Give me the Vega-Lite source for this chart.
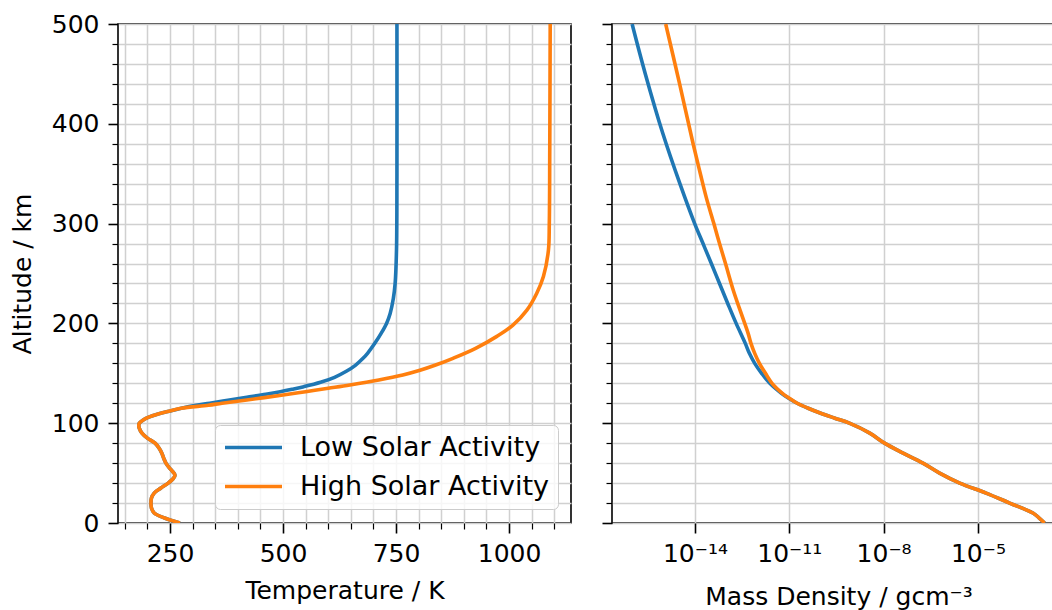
{
  "$schema": "https://vega.github.io/schema/vega-lite/v6.json",
  "padding": {"left": 9, "top": 11, "right": 0, "bottom": 0},
  "background": "white",
  "config": {
    "view": {"stroke": "black", "strokeWidth": 1.6},
    "font": "DejaVu Sans",
    "axis": {
      "labelFont": "DejaVu Sans", "labelFontSize": 25, "labelColor": "black",
      "titleFont": "DejaVu Sans", "titleFontSize": 25, "titleFontWeight": "normal", "titleColor": "black",
      "tickColor": "black", "domain": false, "grid": true, "gridColor": "#d0d0d0", "gridWidth": 1.5,
      "labelFlush": false, "labelOverlap": false, "labelPadding": 8
    }
  },
  "datasets": {
    "temp": [
      {"s":"Low Solar Activity","alt":0,"T":272},{"s":"Low Solar Activity","alt":5,"T":238},{"s":"Low Solar Activity","alt":10,"T":215},{"s":"Low Solar Activity","alt":15,"T":209},{"s":"Low Solar Activity","alt":20,"T":208},{"s":"Low Solar Activity","alt":25,"T":209},{"s":"Low Solar Activity","alt":30,"T":215},{"s":"Low Solar Activity","alt":35,"T":230},{"s":"Low Solar Activity","alt":40,"T":246},{"s":"Low Solar Activity","alt":45,"T":258},{"s":"Low Solar Activity","alt":48,"T":261},{"s":"Low Solar Activity","alt":52,"T":255},{"s":"Low Solar Activity","alt":55,"T":249},{"s":"Low Solar Activity","alt":60,"T":241},{"s":"Low Solar Activity","alt":65,"T":236},{"s":"Low Solar Activity","alt":70,"T":232},{"s":"Low Solar Activity","alt":75,"T":226},{"s":"Low Solar Activity","alt":80,"T":217},{"s":"Low Solar Activity","alt":85,"T":200},{"s":"Low Solar Activity","alt":90,"T":188},{"s":"Low Solar Activity","alt":95,"T":182},{"s":"Low Solar Activity","alt":98,"T":181},{"s":"Low Solar Activity","alt":100,"T":182},{"s":"Low Solar Activity","alt":103,"T":190},{"s":"Low Solar Activity","alt":106,"T":203},{"s":"Low Solar Activity","alt":109,"T":222},{"s":"Low Solar Activity","alt":112,"T":248},{"s":"Low Solar Activity","alt":115,"T":275},{"s":"Low Solar Activity","alt":118,"T":308},{"s":"Low Solar Activity","alt":120,"T":338},{"s":"Low Solar Activity","alt":123,"T":378},{"s":"Low Solar Activity","alt":126,"T":420},{"s":"Low Solar Activity","alt":129,"T":462},{"s":"Low Solar Activity","alt":131.6,"T":494},{"s":"Low Solar Activity","alt":134,"T":520},{"s":"Low Solar Activity","alt":136.6,"T":546},{"s":"Low Solar Activity","alt":141,"T":583},{"s":"Low Solar Activity","alt":146,"T":614},{"s":"Low Solar Activity","alt":152,"T":640},{"s":"Low Solar Activity","alt":158,"T":660},{"s":"Low Solar Activity","alt":165,"T":677},{"s":"Low Solar Activity","alt":170,"T":687},{"s":"Low Solar Activity","alt":180,"T":703},{"s":"Low Solar Activity","alt":190,"T":717},{"s":"Low Solar Activity","alt":200,"T":729},{"s":"Low Solar Activity","alt":210,"T":737},{"s":"Low Solar Activity","alt":225,"T":744},{"s":"Low Solar Activity","alt":240,"T":748},{"s":"Low Solar Activity","alt":273,"T":751},{"s":"Low Solar Activity","alt":350,"T":752},{"s":"Low Solar Activity","alt":500,"T":752},
      {"s":"High Solar Activity","alt":0,"T":272},{"s":"High Solar Activity","alt":5,"T":238},{"s":"High Solar Activity","alt":10,"T":215},{"s":"High Solar Activity","alt":15,"T":209},{"s":"High Solar Activity","alt":20,"T":208},{"s":"High Solar Activity","alt":25,"T":209},{"s":"High Solar Activity","alt":30,"T":215},{"s":"High Solar Activity","alt":35,"T":230},{"s":"High Solar Activity","alt":40,"T":246},{"s":"High Solar Activity","alt":45,"T":258},{"s":"High Solar Activity","alt":48,"T":261},{"s":"High Solar Activity","alt":52,"T":255},{"s":"High Solar Activity","alt":55,"T":249},{"s":"High Solar Activity","alt":60,"T":241},{"s":"High Solar Activity","alt":65,"T":236},{"s":"High Solar Activity","alt":70,"T":232},{"s":"High Solar Activity","alt":75,"T":226},{"s":"High Solar Activity","alt":80,"T":217},{"s":"High Solar Activity","alt":85,"T":200},{"s":"High Solar Activity","alt":90,"T":188},{"s":"High Solar Activity","alt":95,"T":182},{"s":"High Solar Activity","alt":98,"T":181},{"s":"High Solar Activity","alt":100,"T":182},{"s":"High Solar Activity","alt":103,"T":190},{"s":"High Solar Activity","alt":106,"T":203},{"s":"High Solar Activity","alt":109,"T":222},{"s":"High Solar Activity","alt":112,"T":248},{"s":"High Solar Activity","alt":115,"T":275},{"s":"High Solar Activity","alt":118,"T":335},{"s":"High Solar Activity","alt":120,"T":365},{"s":"High Solar Activity","alt":123.2,"T":420},{"s":"High Solar Activity","alt":128.3,"T":500},{"s":"High Solar Activity","alt":131.6,"T":550},{"s":"High Solar Activity","alt":135,"T":600},{"s":"High Solar Activity","alt":138.3,"T":648},{"s":"High Solar Activity","alt":143.3,"T":712},{"s":"High Solar Activity","alt":148.3,"T":765},{"s":"High Solar Activity","alt":153,"T":803},{"s":"High Solar Activity","alt":158,"T":836},{"s":"High Solar Activity","alt":165,"T":876},{"s":"High Solar Activity","alt":175,"T":926},{"s":"High Solar Activity","alt":187,"T":973},{"s":"High Solar Activity","alt":198,"T":1008},{"s":"High Solar Activity","alt":213,"T":1039},{"s":"High Solar Activity","alt":230,"T":1061},{"s":"High Solar Activity","alt":247,"T":1076},{"s":"High Solar Activity","alt":273,"T":1087},{"s":"High Solar Activity","alt":300,"T":1089},{"s":"High Solar Activity","alt":374,"T":1090},{"s":"High Solar Activity","alt":500,"T":1091}
    ],
    "dens": [
      {"s":"Low Solar Activity","alt":0,"rho":1.32e-3},{"s":"Low Solar Activity","alt":5,"rho":8.9e-4},{"s":"Low Solar Activity","alt":10,"rho":5.62e-4},{"s":"Low Solar Activity","alt":20,"rho":1.02e-4},{"s":"Low Solar Activity","alt":30,"rho":1.82e-5},{"s":"Low Solar Activity","alt":40,"rho":2.63e-6},{"s":"Low Solar Activity","alt":50,"rho":6.03e-7},{"s":"Low Solar Activity","alt":60,"rho":1.78e-7},{"s":"Low Solar Activity","alt":70,"rho":4.17e-8},{"s":"Low Solar Activity","alt":80,"rho":1.07e-8},{"s":"Low Solar Activity","alt":90,"rho":3.63e-9},{"s":"Low Solar Activity","alt":100,"rho":8.13e-10},{"s":"Low Solar Activity","alt":105,"rho":2.82e-10},{"s":"Low Solar Activity","alt":110,"rho":1.0e-10},{"s":"Low Solar Activity","alt":115,"rho":3.98e-11},{"s":"Low Solar Activity","alt":120,"rho":1.78e-11},{"s":"Low Solar Activity","alt":125,"rho":9.55e-12},{"s":"Low Solar Activity","alt":130,"rho":5.62e-12},{"s":"Low Solar Activity","alt":140,"rho":2.40e-12},{"s":"Low Solar Activity","alt":150,"rho":1.32e-12},{"s":"Low Solar Activity","alt":160,"rho":7.94e-13},{"s":"Low Solar Activity","alt":170,"rho":5.37e-13},{"s":"Low Solar Activity","alt":180,"rho":3.98e-13},{"s":"Low Solar Activity","alt":200,"rho":2.04e-13},{"s":"Low Solar Activity","alt":220,"rho":1.10e-13},{"s":"Low Solar Activity","alt":240,"rho":6.03e-14},{"s":"Low Solar Activity","alt":260,"rho":3.31e-14},{"s":"Low Solar Activity","alt":280,"rho":1.80e-14},{"s":"Low Solar Activity","alt":300,"rho":9.77e-15},{"s":"Low Solar Activity","alt":340,"rho":3.31e-15},{"s":"Low Solar Activity","alt":390,"rho":9.55e-16},{"s":"Low Solar Activity","alt":450,"rho":2.63e-16},{"s":"Low Solar Activity","alt":500,"rho":1.0e-16},
      {"s":"High Solar Activity","alt":0,"rho":1.32e-3},{"s":"High Solar Activity","alt":5,"rho":8.9e-4},{"s":"High Solar Activity","alt":10,"rho":5.62e-4},{"s":"High Solar Activity","alt":20,"rho":1.02e-4},{"s":"High Solar Activity","alt":30,"rho":1.82e-5},{"s":"High Solar Activity","alt":40,"rho":2.63e-6},{"s":"High Solar Activity","alt":50,"rho":6.03e-7},{"s":"High Solar Activity","alt":60,"rho":1.78e-7},{"s":"High Solar Activity","alt":70,"rho":4.17e-8},{"s":"High Solar Activity","alt":80,"rho":1.07e-8},{"s":"High Solar Activity","alt":90,"rho":3.63e-9},{"s":"High Solar Activity","alt":100,"rho":8.13e-10},{"s":"High Solar Activity","alt":105,"rho":2.82e-10},{"s":"High Solar Activity","alt":110,"rho":1.0e-10},{"s":"High Solar Activity","alt":115,"rho":3.98e-11},{"s":"High Solar Activity","alt":120,"rho":1.78e-11},{"s":"High Solar Activity","alt":125,"rho":1.0e-11},{"s":"High Solar Activity","alt":130,"rho":6.03e-12},{"s":"High Solar Activity","alt":140,"rho":2.82e-12},{"s":"High Solar Activity","alt":150,"rho":1.74e-12},{"s":"High Solar Activity","alt":160,"rho":1.12e-12},{"s":"High Solar Activity","alt":170,"rho":7.94e-13},{"s":"High Solar Activity","alt":180,"rho":6.03e-13},{"s":"High Solar Activity","alt":190,"rho":4.90e-13},{"s":"High Solar Activity","alt":210,"rho":2.95e-13},{"s":"High Solar Activity","alt":233,"rho":1.66e-13},{"s":"High Solar Activity","alt":260,"rho":9.33e-14},{"s":"High Solar Activity","alt":280,"rho":6.03e-14},{"s":"High Solar Activity","alt":300,"rho":3.98e-14},{"s":"High Solar Activity","alt":326,"rho":2.29e-14},{"s":"High Solar Activity","alt":350,"rho":1.48e-14},{"s":"High Solar Activity","alt":380,"rho":8.71e-15},{"s":"High Solar Activity","alt":440,"rho":3.24e-15},{"s":"High Solar Activity","alt":500,"rho":1.17e-15}
    ]
  },
  "spacing": 28,
  "resolve": {"legend": {"color": "independent"}},
  "hconcat": [
    {
      "width": 453, "height": 499,
      "data": {"name": "temp"},
      "mark": {"type": "line", "strokeWidth": 3.6, "clip": true, "interpolate": "catmull-rom"},
      "encoding": {
        "x": {"field": "T", "type": "quantitative",
          "scale": {"domain": [135, 1137], "nice": false, "zero": false},
          "axis": {"title": "Temperature / K", "format": "d",
            "values": [150,200,250,300,350,400,450,500,550,600,650,700,750,800,850,900,950,1000,1050,1100],
            "labelExpr": "datum.value % 250 === 0 ? datum.label : ''",
            "tickSize": {"condition": {"test": "datum.value % 250 === 0", "value": 10}, "value": 6},
            "tickWidth": {"condition": {"test": "datum.value % 250 === 0", "value": 1.6}, "value": 1.2},
            "labelPadding": 8, "titlePadding": 12}},
        "y": {"field": "alt", "type": "quantitative",
          "scale": {"domain": [0, 500], "nice": false},
          "axis": {"title": "Altitude / km", "format": "d",
            "values": [0,20,40,60,80,100,120,140,160,180,200,220,240,260,280,300,320,340,360,380,400,420,440,460,480,500],
            "labelExpr": "datum.value % 100 === 0 ? datum.label : ''",
            "tickSize": {"condition": {"test": "datum.value % 100 === 0", "value": 10}, "value": 6},
            "tickWidth": {"condition": {"test": "datum.value % 100 === 0", "value": 1.6}, "value": 1.2},
            "labelPadding": 9, "titlePadding": 16}},
        "color": {"field": "s", "type": "nominal",
          "scale": {"domain": ["Low Solar Activity", "High Solar Activity"], "range": ["#1f77b4", "#ff7f0e"]},
          "legend": {"title": null, "orient": "none", "legendX": 97, "legendY": 401,
            "labelFontSize": 27, "labelFont": "DejaVu Sans", "labelColor": "black", "labelLimit": 400,
            "symbolType": "M-3,0H3", "symbolSize": 361, "symbolStrokeWidth": 3.6, "symbolOffset": 16,
            "labelOffset": 33, "padding": 9, "rowPadding": 11,
            "fillColor": "rgba(255,255,255,0.8)", "strokeColor": "#cccccc", "cornerRadius": 5}},
        "order": {"field": "alt", "type": "quantitative"}
      }
    },
    {
      "width": 453, "height": 499,
      "data": {"name": "dens"},
      "mark": {"type": "line", "strokeWidth": 3.6, "clip": true, "interpolate": "catmull-rom"},
      "encoding": {
        "x": {"field": "rho", "type": "quantitative",
          "scale": {"type": "log", "domain": [2.29e-17, 5.89e-3], "nice": false},
          "axis": {"title": "Mass Density / gcm⁻³",
            "values": [1e-14, 1e-11, 1e-8, 1e-5],
            "labelExpr": "datum.value < 1e-13 ? '10⁻¹⁴' : datum.value < 1e-10 ? '10⁻¹¹' : datum.value < 1e-7 ? '10⁻⁸' : '10⁻⁵'",
            "tickSize": 10, "tickWidth": 1.6, "labelPadding": 8, "titlePadding": 18}},
        "y": {"field": "alt", "type": "quantitative",
          "scale": {"domain": [0, 500], "nice": false},
          "axis": {"title": null, "labels": false,
            "values": [0,20,40,60,80,100,120,140,160,180,200,220,240,260,280,300,320,340,360,380,400,420,440,460,480,500],
            "tickSize": {"condition": {"test": "datum.value % 100 === 0", "value": 10}, "value": 6},
            "tickWidth": {"condition": {"test": "datum.value % 100 === 0", "value": 1.6}, "value": 1.2}}},
        "color": {"field": "s", "type": "nominal",
          "scale": {"domain": ["Low Solar Activity", "High Solar Activity"], "range": ["#1f77b4", "#ff7f0e"]},
          "legend": null},
        "order": {"field": "alt", "type": "quantitative"}
      }
    }
  ]
}
